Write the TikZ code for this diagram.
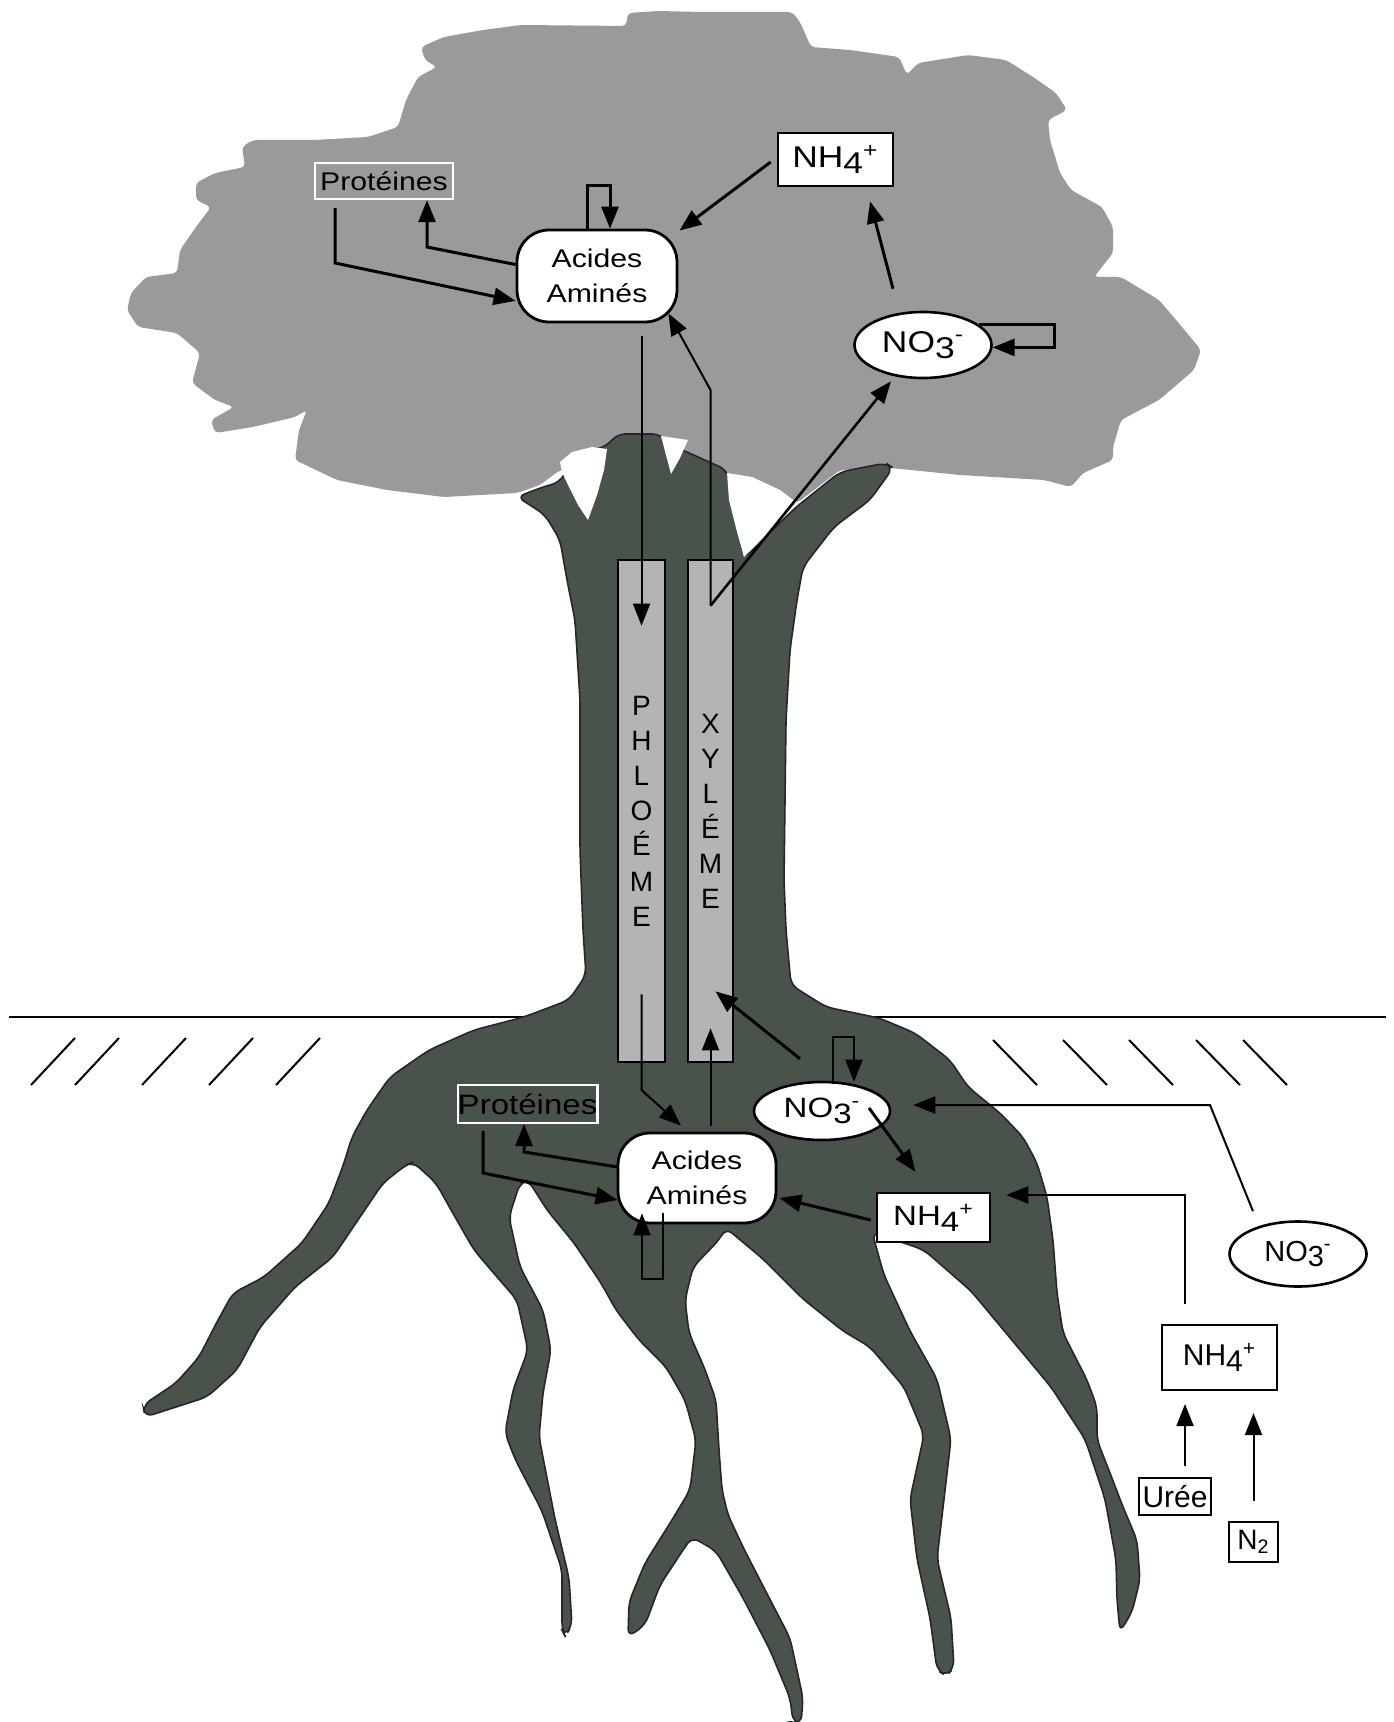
\documentclass[tikz,border=0pt]{standalone}
\usepackage{fontspec}
\setmainfont{Liberation Sans}
\newfontfamily\treefont{Liberation Sans}[FakeStretch=1.18]
\usetikzlibrary{shapes.geometric,arrows.meta}
\definecolor{crown}{HTML}{9A9A9A}
\definecolor{wood}{HTML}{4A524C}
\definecolor{vessel}{HTML}{B4B4B4}
\newcommand{\ammo}{NH\raisebox{-0.2em}{4}\textsuperscript{+}}
\newcommand{\nitr}{NO\raisebox{-0.2em}{3}\textsuperscript{-}}
\tikzset{
  lbl/.style={inner sep=0pt, text=black},
  tfont/.style={font=\treefont\fontsize{15}{17}\selectfont},
  ofont/.style={font=\fontsize{15}{17}\selectfont},
  wbox/.style={lbl, draw=black, line width=1.3pt, fill=white, rectangle},
  wellipse/.style={lbl, draw=black, line width=1.3pt, fill=white, ellipse},
  aanode/.style={lbl, draw=black, line width=1.4pt, fill=white, rounded corners=16pt,
    minimum width=80pt, minimum height=46pt, align=center,
    font=\treefont\fontsize{12.8}{17.5}\selectfont},
  protbox/.style={lbl, draw=white, line width=1.2pt, rectangle},
  arr/.style={line width=1.5pt, -{Triangle[length=11pt,width=8.5pt]}},
  farr/.style={line width=1pt, -{Triangle[length=11pt,width=8.5pt]}},
  vesselbox/.style={draw=black, line width=1.3pt, fill=vessel, inner sep=0pt,
    align=center, font=\fontsize{14}{17.6}\selectfont},
  hatch/.style={line width=1pt},
}
\begin{document}
\begin{tikzpicture}[x=0.5pt,y=-0.5pt]
\useasboundingbox (0,0) rectangle (1393,1722);
\fill[white] (0,0) rectangle (1393,1722);
% crown
\fill[crown, rounded corners=2pt] (628,13) -- (659,11) -- (700,12) -- (792,12) -- (800,22) -- (811,47) -- (850,50) -- (899,57) -- (907,75) -- (918,63) -- (968,55) -- (1006,60) -- (1033,77) -- (1056,93) -- (1067,110) -- (1048,120) -- (1050,140) -- (1060,173) -- (1071,190) -- (1102,207) -- (1113,227) -- (1113,253) -- (1094,277) -- (1121,277) -- (1159,300) -- (1182,327) -- (1201,350) -- (1194,370) -- (1159,400) -- (1121,420) -- (1113,447) -- (1113,460) -- (1083,473) -- (1071,487) -- (1044,480) -- (960,475) -- (891,468) -- (840,470) -- (797,503) -- (780,490) -- (727,473) -- (600,470) -- (560,470) -- (540,485) -- (517,493) -- (444,497) -- (387,490) -- (337,480) -- (295,460) -- (299,430) -- (307,410) -- (295,417) -- (253,427) -- (215,433) -- (211,420) -- (234,407) -- (215,400) -- (192,383) -- (200,353) -- (177,333) -- (138,327) -- (127,310) -- (131,293) -- (146,277) -- (177,273) -- (180,250) -- (196,227) -- (211,207) -- (196,200) -- (196,183) -- (215,173) -- (245,167) -- (242,147) -- (253,140) -- (314,140) -- (368,137) -- (398,127) -- (406,100) -- (418,77) -- (437,67) -- (425,60) -- (421,47) -- (444,37) -- (483,30) -- (521,25) -- (626,26) -- cycle;
% ground
\draw[line width=0.9pt] (9,1017) -- (1386,1017);
\foreach \hx in {31,75,142,209,276} \draw[hatch] (\hx,1085) -- (\hx+44,1038);
\foreach \hx in {993,1063,1129,1196,1243} \draw[hatch] (\hx,1040) -- (\hx+44,1085);
% trunk and roots
\filldraw[fill=wood, draw=black!85, line width=0.8pt, rounded corners=4pt]
 (517,497) -- (540,488) -- (560,482) -- (575,455) -- (607,446) -- (617,434) -- (660,434) -- (672,446) -- (687,452) -- (727,470) -- (744,558) -- (795,508) -- (840,472) -- (886,463) -- (893,468) -- (870,500) -- (834,527) -- (803,567) -- (797,600) -- (790,650) -- (786,720) -- (785,800) -- (784,880) -- (786,930) -- (791,985) -- (826,1007) -- (879,1018) -- (915,1033) -- (950,1060) -- (968,1087) -- (1000,1113)
 -- (1023,1137) -- (1037,1163) -- (1047,1197) -- (1053,1240) -- (1057,1293) -- (1063,1333) -- (1087,1380) -- (1097,1407) -- (1097,1440) -- (1110,1473) -- (1123,1507) -- (1137,1540) -- (1140,1580) -- (1132,1612) -- (1120,1632) -- (1117,1600) -- (1116,1560) -- (1105,1499) -- (1085,1439) -- (1051,1387) -- (1011,1339) -- (971,1291) -- (924,1250) -- (872,1232)
 -- (884,1275) -- (910,1331) -- (937,1379) -- (951,1439) -- (944,1499) -- (937,1559) -- (951,1618) -- (954,1668) -- (946,1676) -- (937,1670) -- (930,1618) -- (917,1559) -- (910,1499) -- (924,1435) -- (904,1387) -- (870,1347) -- (843,1331) -- (803,1299) -- (763,1259) -- (726,1228)
 -- (719,1240) -- (693,1267) -- (685,1300) -- (689,1333) -- (704,1367) -- (716,1400) -- (719,1450) -- (722,1490) -- (728,1515) -- (743,1547) -- (763,1586) -- (790,1638) -- (803,1698) -- (801,1724) -- (793,1722) -- (790,1698) -- (770,1650) -- (743,1598) -- (716,1551) -- (692,1537) -- (683,1550) -- (660,1585) -- (645,1625) -- (628,1637) -- (629,1602) -- (645,1563) -- (672,1520) -- (690,1490) -- (696,1440) -- (685,1400) -- (666,1367) -- (639,1340) -- (616,1310) -- (601,1283) -- (574,1243) -- (547,1210) -- (528,1180) -- (520,1183)
 -- (509,1217) -- (520,1267) -- (543,1310) -- (551,1350) -- (543,1393) -- (539,1437) -- (555,1519) -- (569,1578) -- (572,1626) -- (565,1636) -- (562,1630) -- (562,1570) -- (542,1511) -- (515,1459) -- (505,1433) -- (513,1390) -- (528,1350) -- (517,1300) -- (497,1277) -- (474,1250) -- (455,1217) -- (436,1183) -- (413,1162)
 -- (406,1165) -- (383,1183) -- (360,1217) -- (333,1257) -- (295,1287) -- (260,1327) -- (237,1370) -- (207,1397) -- (176,1407) -- (145,1417) -- (143,1405) -- (176,1383) -- (199,1357) -- (218,1320) -- (233,1293) -- (264,1277) -- (302,1243) -- (329,1203) -- (344,1163) -- (352,1137) -- (367,1110) -- (390,1077) -- (429,1050) -- (474,1030) -- (524,1017) -- (569,1000) -- (586,975) -- (583,930) -- (580,850) -- (580,700) -- (575,620) -- (567,580) -- (560,540) -- (545,515) -- (530,505) -- cycle;
% white gaps at the fork of the trunk
\fill[white] (560,462) -- (572,452) -- (592,447) -- (607,449) -- (604,470) -- (597,495) -- (588,520) -- (578,505) -- (568,485) -- (562,472) -- cycle;
\fill[white] (661,436) -- (688,440) -- (680,458) -- (671,474) -- (666,455) -- cycle;
\fill[white] (727,473) -- (752,477) -- (780,490) -- (797,503) -- (744,557) -- (736,528) -- (729,500) -- cycle;
% vessels
\node[vesselbox, minimum width=23.5pt, minimum height=251pt] (phl) at (641.5,811) {P\\H\\L\\O\\É\\M\\E};
\node[vesselbox, minimum width=22.5pt, minimum height=251pt, font=\fontsize{14}{17.5}\selectfont] (xyl) at (710.5,811) {X\\Y\\L\\É\\M\\E};
% leaf nodes
\node[protbox, fill=crown, minimum width=69pt, minimum height=18pt, font=\treefont\fontsize{12.8}{15}\selectfont] (protT) at (384,181) {Protéines};
\node[aanode] (aaT) at (597,276) {Acides\\Aminés};
\node[wbox, tfont, minimum width=57.5pt, minimum height=26.5pt] (nh4T) at (835.5,159.5) {\ammo};
\node[wellipse, tfont, minimum width=68.5pt, minimum height=33pt] (no3T) at (923,345) {\nitr};
% root nodes
\node[protbox, fill=wood, minimum width=69.5pt, minimum height=19pt, font=\treefont\fontsize{14}{16}\selectfont] (protB) at (527.5,1104) {Protéines};
\node[aanode, minimum width=79pt, minimum height=45pt] (aaB) at (697,1178) {Acides\\Aminés};
\node[wellipse, font=\treefont\fontsize{14}{16}\selectfont, minimum width=68pt, minimum height=29pt] (no3B) at (822,1111) {\nitr};
\node[wbox, font=\treefont\fontsize{14}{16}\selectfont, minimum width=56.5pt, minimum height=24.5pt] (nh4B) at (933.5,1217.5) {\ammo};
% soil nodes
\node[wellipse, font=\fontsize{14.5}{16}\selectfont, minimum width=68.5pt, minimum height=32.5pt] (no3E) at (1298,1254) {\nitr};
\node[wbox, ofont, line width=1pt, minimum width=57.5pt, minimum height=32.5pt] (nh4E) at (1219.5,1357.5) {\ammo};
\node[wbox, ofont, line width=1pt, minimum width=36pt, minimum height=18.5pt] (uree) at (1175,1496.5) {Urée};
\node[wbox, font=\fontsize{14}{16}\selectfont, line width=1pt, minimum width=24.5pt, minimum height=20pt] (n2) at (1253.5,1542) {N\textsubscript{2}};
% bend points
\coordinate (tb1) at (335,263);
\coordinate (tb2) at (427,247);
\coordinate (xb) at (710.5,390);
\coordinate (pb) at (641.5,1090);
\coordinate (qb) at (524,1152);
\coordinate (qc) at (483,1173);
\coordinate (eb) at (1210,1105);
% leaf connectors
\draw[arr] ([xshift=-24.5pt,yshift=-4pt]protT.south) -- (tb1) -- (aaT.197);
\draw[arr] (aaT.172) -- (tb2) -- (tb2 |- protT.south);
\draw[arr] ([xshift=-5pt]aaT.north) -- ++(0,-43) -- ++(23,0) -- ([xshift=6.5pt]aaT.north);
\draw[arr] ([xshift=-3pt,yshift=-1.25pt]nh4T.west) -- ([xshift=0.5pt,yshift=-1pt]aaT.north east);
\draw[arr] ([xshift=-15pt,yshift=11pt]no3T.north) -- ([xshift=17.25pt,yshift=-7pt]nh4T.south);
\draw[arr] (no3T.20) -- ++(75,0) |- (no3T.-2);
\draw[farr] ([xshift=22.25pt,yshift=-6.5pt]aaT.south) -- ([yshift=-33.5pt]phl.north);
\draw[farr] ([yshift=-23.5pt]xyl.north) -- (xb) -- ([xshift=-5pt,yshift=5pt]aaT.south east);
\draw[line width=1.3pt, -{Triangle[length=11pt,width=8.5pt]}] ([yshift=-23.5pt]xyl.north) -- ([xshift=-16pt,yshift=-1pt]no3T.south);
% root connectors
\draw[farr] ([yshift=34.5pt]phl.south) -- (pb) -- ([xshift=-8pt,yshift=3pt]aaB.north);
\draw[farr] ([xshift=6.75pt,yshift=3pt]aaB.north) -- ([yshift=17.5pt]xyl.south);
\draw[arr] ([xshift=-11pt,yshift=11pt]no3B.north) -- ([xshift=2.5pt,yshift=36pt]xyl.south);
\draw[farr] ([xshift=5.5pt,yshift=-1.5pt]no3B.north) -- ++(0,-47) -- ++(21,0) -- ([xshift=16pt,yshift=-0.5pt]no3B.north);
\draw[arr] ([xshift=23.5pt,yshift=1.5pt]no3B.center) -- ([xshift=-9pt,yshift=10pt]nh4B.north);
\draw[arr] ([xshift=-2.5pt,yshift=-1.25pt]nh4B.west) -- ([xshift=1pt,yshift=-10pt]aaB.east);
\draw[arr] ([xshift=0.5pt,yshift=5.5pt]aaB.west) -- (qb) -- (qb |- protB.south);
\draw[arr] ([xshift=-22.25pt,yshift=-3.5pt]protB.south) -- (qc) -- ([xshift=0.5pt,yshift=-11pt]aaB.west);
\draw[farr] ([xshift=-17pt,yshift=5.5pt]aaB.south) -- ++(0,66) -- ++(-21,0) -- ([xshift=-27.5pt,yshift=5.5pt]aaB.south);
% soil connectors
\draw[farr] ([xshift=-22.5pt,yshift=4.5pt]no3E.north) -- (eb) -- ([xshift=11pt,yshift=3pt]no3B.east);
\draw[farr] ([xshift=-17.25pt,yshift=10pt]nh4E.north) |- ([xshift=7.5pt,yshift=11.25pt]nh4B.east);
\draw[farr] ([xshift=5pt,yshift=5.5pt]uree.north) -- ([xshift=-17.25pt,yshift=-6.5pt]nh4E.south);
\draw[farr] ([yshift=10pt]n2.north) -- ([xshift=17pt,yshift=-11pt]nh4E.south);
\end{tikzpicture}
\end{document}
